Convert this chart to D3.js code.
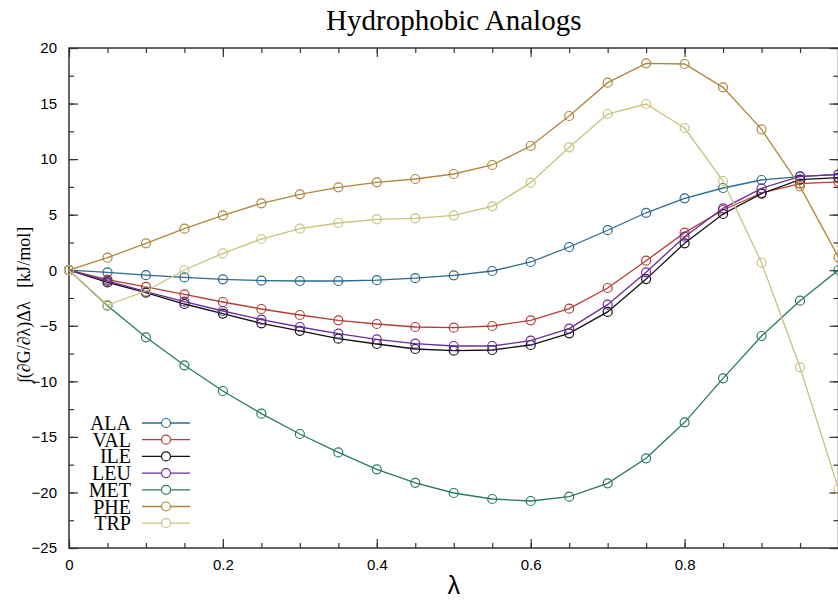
<!DOCTYPE html>
<html>
<head>
<meta charset="utf-8">
<script src="https://cdn.jsdelivr.net/npm/d3@7"></script>
<style>
  body { margin: 0; background: #fff; }
  .tick text { font-family: "Liberation Sans", Arial, sans-serif; font-size: 15px; fill: #000; }
</style>
</head>
<body>
<div class="chart"></div>
<script>
// lambda windows
var lambdas = [0, 0.05, 0.1, 0.15, 0.2, 0.25, 0.3, 0.35, 0.4, 0.45, 0.5,
               0.55, 0.6, 0.65, 0.7, 0.75, 0.8, 0.85, 0.9, 0.95, 1.0];

// integrated dG/dl per residue (kJ/mol)
var ala = [0, -0.2, -0.45, -0.65, -0.82, -0.93, -0.97, -0.97, -0.9, -0.72, -0.46,
           -0.07, 0.74, 2.09, 3.6, 5.17, 6.47, 7.4, 8.12, 8.42, 8.62];
var val = [0, -0.85, -1.5, -2.17, -2.86, -3.49, -4.03, -4.51, -4.84, -5.11, -5.17,
           -5.02, -4.51, -3.46, -1.6, 0.86, 3.38, 5.42, 6.95, 7.8, 7.95];
var ile = [0, -1.1, -2.02, -3.04, -3.9, -4.78, -5.45, -6.16, -6.64, -7.09, -7.24,
           -7.18, -6.73, -5.68, -3.75, -0.8, 2.42, 5.06, 6.9, 8.15, 8.33];
var leu = [0, -0.95, -1.93, -2.83, -3.67, -4.45, -5.11, -5.71, -6.22, -6.61, -6.82,
           -6.82, -6.34, -5.26, -3.1, -0.19, 3.02, 5.57, 7.37, 8.45, 8.6];
var met = [0, -3.19, -6.04, -8.56, -10.87, -12.91, -14.74, -16.4, -17.92, -19.13, -20.05,
           -20.59, -20.77, -20.38, -19.18, -16.93, -13.69, -9.73, -5.92, -2.74, 0.02];
var phe = [0, 1.13, 2.42, 3.74, 4.94, 6.02, 6.83, 7.46, 7.91, 8.21, 8.66,
           9.47, 11.18, 13.88, 16.88, 18.62, 18.56, 16.46, 12.68, 7.55, 1.16];
var trp = [0, -3.13, -1.87, 0.02, 1.52, 2.81, 3.74, 4.25, 4.58, 4.67, 4.94,
           5.75, 7.88, 11.06, 14.06, 14.96, 12.8, 8.03, 0.68, -8.74, -19.7];

var names = ["ALA", "VAL", "ILE", "LEU", "MET", "PHE", "TRP"];
var colors = ["#2b6a8e", "#b33e36", "#111111", "#6b2c9e", "#2b7a5f", "#b0863a", "#c9c27c"];
var series = [ala, val, ile, leu, met, phe, trp];

var xTicks = [0, 0.2, 0.4, 0.6, 0.8];
var yTicks = [-25, -20, -15, -10, -5, 0, 5, 10, 15, 20];

var margin = {top: 48, right: 0, bottom: 53, left: 69},
    width = 769.5,
    height = 500;

var svg = d3.select(".chart").append("svg")
    .attr("width", 838)
    .attr("height", 601);

var g = svg.append("g")
    .attr("transform", "translate(" + margin.left + "," + margin.top + ")");

var x = d3.scaleLinear().domain([0, 1]).range([0, width]);
var y = d3.scaleLinear().domain([-25, 20]).range([height, 0]);

// minor ticks every 0.05 / 2.5
var minorX = d3.range(0, 1.0001, 0.05);
var minorY = d3.range(-25, 20.0001, 2.5);

function tickAxis(axis) {
  return function(sel) {
    sel.call(axis);
    sel.select(".domain").remove();
    sel.selectAll(".tick line").attr("stroke", "#333").attr("stroke-width", 1.2);
  };
}

// bottom + top
g.append("g").attr("transform", "translate(0," + height + ")")
  .call(tickAxis(d3.axisBottom(x).tickValues(minorX).tickSize(-5).tickFormat("")));
g.append("g").attr("transform", "translate(0," + height + ")")
  .call(tickAxis(d3.axisBottom(x).tickValues(xTicks).tickSize(-9).tickPadding(11)
    .tickFormat(function(d) { return d === 0 ? "0" : d3.format(".1f")(d); })));
g.append("g")
  .call(tickAxis(d3.axisTop(x).tickValues(minorX).tickSize(-5).tickFormat("")));
g.append("g")
  .call(tickAxis(d3.axisTop(x).tickValues(xTicks).tickSize(-9).tickFormat("")));

// left + right
g.append("g")
  .call(tickAxis(d3.axisLeft(y).tickValues(minorY).tickSize(-5).tickFormat("")));
g.append("g")
  .call(tickAxis(d3.axisLeft(y).tickValues(yTicks).tickSize(-9).tickPadding(12)));
g.append("g").attr("transform", "translate(" + width + ",0)")
  .call(tickAxis(d3.axisRight(y).tickValues(minorY).tickSize(-5).tickFormat("")));
g.append("g").attr("transform", "translate(" + width + ",0)")
  .call(tickAxis(d3.axisRight(y).tickValues(yTicks).tickSize(-9).tickFormat("")));

// border
g.append("rect")
  .attr("width", width).attr("height", height)
  .attr("fill", "none").attr("stroke", "#333").attr("stroke-width", 1.5);

var line = d3.line()
  .x(function(d, i) { return x(lambdas[i]); })
  .y(function(d) { return y(d); });

series.forEach(function(s, k) {
  g.append("path")
    .datum(s)
    .attr("fill", "none")
    .attr("stroke", colors[k])
    .attr("stroke-width", 1.3)
    .attr("d", line);

  g.append("g").selectAll("circle")
    .data(s)
    .enter()
      .append("circle")
      .attr("cx", function(d, i) { return x(lambdas[i]); })
      .attr("cy", function(d) { return y(d); })
      .attr("r", 4.5)
      .attr("fill", "none")
      .attr("stroke", colors[k])
      .attr("stroke-width", 1.2);
});

// title
svg.append("text")
  .attr("x", margin.left + width / 2)
  .attr("y", 30)
  .attr("text-anchor", "middle")
  .style("font-family", "'Liberation Serif', 'Times New Roman', serif")
  .style("font-size", "29px")
  .text("Hydrophobic Analogs");

// axis labels
svg.append("text")
  .attr("x", margin.left + width / 2)
  .attr("y", 594)
  .attr("text-anchor", "middle")
  .style("font-family", "'Liberation Sans', Arial, sans-serif")
  .style("font-size", "25px")
  .text("λ");

svg.append("text")
  .attr("transform", "translate(30," + 305 + ") rotate(-90)")
  .attr("text-anchor", "middle")
  .style("font-family", "'Liberation Serif', 'Times New Roman', serif")
  .style("font-size", "18px")
  .style("white-space", "pre")
  .text("∫(∂G/∂λ)Δλ   [kJ/mol]");

// legend
var legend = svg.append("g").attr("class", "legend");
names.forEach(function(n, i) {
  var ly = 423 + i * 16.7;
  legend.append("text")
    .attr("x", 131).attr("y", ly + 7)
    .attr("text-anchor", "end")
    .style("font-family", "'Liberation Serif', 'Times New Roman', serif")
    .style("font-size", "20px")
    .text(n);
  legend.append("line")
    .attr("x1", 142).attr("x2", 190).attr("y1", ly).attr("y2", ly)
    .attr("stroke", colors[i]).attr("stroke-width", 1.3);
  legend.append("circle")
    .attr("cx", 166).attr("cy", ly).attr("r", 4.5)
    .attr("fill", "white").attr("stroke", colors[i]).attr("stroke-width", 1.2);
});
</script>
</body>
</html>
